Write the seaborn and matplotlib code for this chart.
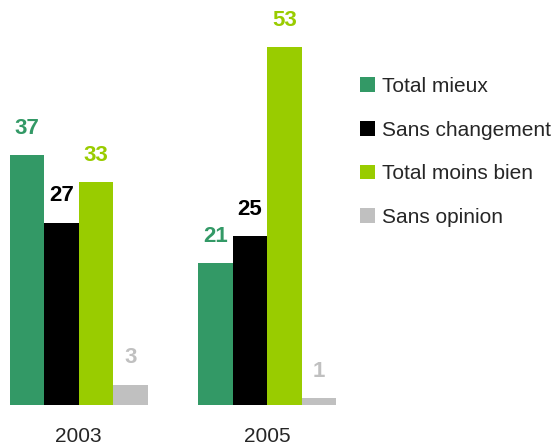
import pandas as pd
import seaborn as sns
import matplotlib
matplotlib.use('Agg')
import matplotlib.pyplot as plt

sns.set_style('white')
plt.rcParams['font.family'] = ['Liberation Sans', 'DejaVu Sans']

# data
years = ['2003', '2005']
series = ['Total mieux', 'Sans changement', 'Total moins bien', 'Sans opinion']
total_mieux = [37, 21]
sans_changement = [27, 25]
total_moins_bien = [33, 53]
sans_opinion = [3, 1]
colors = ['#339966', '#000000', '#99cc00', '#c0c0c0']

df = pd.DataFrame({
    'year': years * 4,
    'serie': [s for s in series for _ in years],
    'value': total_mieux + sans_changement + total_moins_bien + sans_opinion,
})

fig = plt.figure(figsize=(5.59, 4.46), dpi=100)
ax = fig.add_axes([10 / 559, 41 / 446, 326 / 559, 405 / 446])

sns.barplot(data=df, x='year', y='value', hue='serie', hue_order=series,
            palette=colors, width=0.73, saturation=1, linewidth=0, ax=ax, legend=True)

for cont, c in zip(ax.containers, colors):
    ax.bar_label(cont, padding=12, color=c, fontsize=16, fontweight='bold')

ax.set_xlim(-0.365, 1.365)
ax.set_ylim(0, 60)
ax.set_xlabel('')
ax.set_ylabel('')
ax.set_yticks([])
ax.tick_params(axis='x', length=0, labelsize=15, pad=16)
sns.despine(ax=ax, left=True, bottom=True)

handles, labels = ax.get_legend_handles_labels()
ax.get_legend().remove()
fig.legend(handles, labels, loc='upper left', bbox_to_anchor=(360 / 559, 1 - 77 / 446),
           frameon=False, fontsize=15, handlelength=0.7, handleheight=0.7,
           handletextpad=0.35, labelspacing=1.18, borderpad=0, borderaxespad=0)

fig.savefig('out.png', dpi=100)
